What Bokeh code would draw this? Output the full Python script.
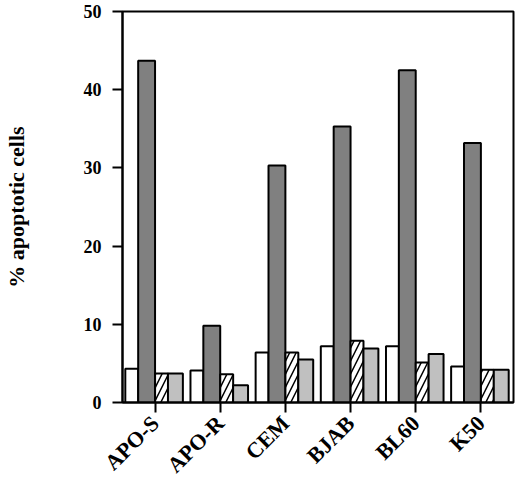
from math import pi
from bokeh.plotting import figure
from bokeh.models import ColumnDataSource, FixedTicker
from bokeh.transform import dodge
from bokeh.embed import file_html
from bokeh.resources import INLINE

cells = ['APO-S', 'APO-R', 'CEM', 'BJAB', 'BL60', 'K50']
control = [4.3, 4.1, 6.4, 7.2, 7.2, 4.6]
treated = [43.7, 9.8, 30.3, 35.3, 42.5, 33.2]
hatched = [3.7, 3.6, 6.4, 7.9, 5.1, 4.2]
light = [3.7, 2.2, 5.5, 6.9, 6.2, 4.2]
y_ticks = [0, 10, 20, 30, 40, 50]

FONT = "Liberation Serif"


def main():
    src = ColumnDataSource(dict(cell=cells, control=control, treated=treated,
                                hatched=hatched, light=light))
    p = figure(x_range=cells, y_range=(0, 50), width=520, height=489,
               output_backend="svg", toolbar_location=None,
               min_border_left=121, min_border_right=7,
               min_border_top=11, min_border_bottom=86)
    p.x_range.range_padding = 0

    # four bars per cell line, widths as in the original
    p.vbar(x=dodge('cell', -0.358, range=p.x_range), top='control', width=0.198,
           source=src, fill_color='white', line_color='black', line_width=2)
    p.vbar(x=dodge('cell', -0.130, range=p.x_range), top='treated', width=0.259,
           source=src, fill_color='#808080', line_color='black', line_width=2)
    p.vbar(x=dodge('cell', 0.099, range=p.x_range), top='hatched', width=0.198,
           source=src, fill_color='white', line_color='black', line_width=2,
           hatch_pattern='/', hatch_color='black', hatch_scale=13, hatch_weight=1.5)
    p.vbar(x=dodge('cell', 0.312, range=p.x_range), top='light', width=0.229,
           source=src, fill_color='#c0c0c0', line_color='black', line_width=2)

    p.grid.visible = False
    p.outline_line_color = 'black'
    p.outline_line_width = 2
    p.outline_line_alpha = 1

    p.yaxis.ticker = FixedTicker(ticks=y_ticks)
    p.yaxis.minor_tick_line_color = None
    p.yaxis.major_tick_in = 0
    p.yaxis.major_tick_out = 10
    p.yaxis.major_label_standoff = 11
    p.yaxis.axis_label = '% apoptotic cells'
    p.yaxis.axis_label_standoff = 52
    p.yaxis.axis_label_text_font = FONT
    p.yaxis.axis_label_text_font_style = 'bold'
    p.yaxis.axis_label_text_font_size = '22px'
    p.yaxis.axis_label_text_color = 'black'

    p.xaxis.major_tick_in = 0
    p.xaxis.major_tick_out = 10
    p.xaxis.major_label_orientation = pi / 4
    p.xaxis.major_label_standoff = 7

    for ax in (p.xaxis, p.yaxis):
        ax.axis_line_width = 2
        ax.axis_line_color = 'black'
        ax.major_tick_line_width = 2
        ax.major_tick_line_color = 'black'
        ax.major_label_text_font = FONT
        ax.major_label_text_font_style = 'bold'
        ax.major_label_text_color = 'black'
    p.yaxis.major_label_text_font_size = '18px'
    p.xaxis.major_label_text_font_size = '22px'

    open("out.html", "w").write(file_html(p, INLINE))


if __name__ == '__main__':
    main()
